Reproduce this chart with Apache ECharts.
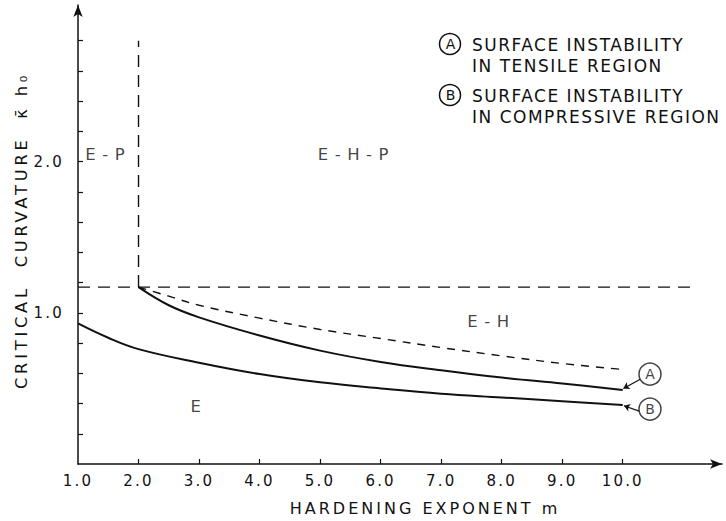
<!DOCTYPE html>
<html>
<head>
<meta charset="utf-8">
<script src="https://cdn.jsdelivr.net/npm/echarts@6/dist/echarts.min.js"></script>
<style>
  html, body { margin: 0; padding: 0; background: #ffffff; }
  #chart { width: 726px; height: 521px; }
  #chart text { letter-spacing: 2.2px; }
  #chart text[style*="16px"] { letter-spacing: 3px; }
  #chart text[style*="16.2px"] { letter-spacing: 3.8px; }
  #chart text[style*="16.5px"] { letter-spacing: 6.5px; }
  #chart text[style*="17px"] { letter-spacing: 1.5px; }
  #chart text[style*="14px"] { letter-spacing: 0px; }
</style>
</head>
<body>
<div id="chart"></div>
<script>
// ---- data ----
const xTickValues = [2, 3, 4, 5, 6, 7, 8, 9, 10];
const xLabelValues = [1, 2, 3, 4, 5, 6, 7, 8, 9, 10];
const yTickValues = [0.2, 0.4, 0.6, 0.8, 1.0, 1.2, 1.4, 1.6, 1.8, 2.0, 2.2, 2.4, 2.6, 2.8];
const yLabelValues = [1, 2];

// curve A: surface instability in tensile region (solid, upper)
const curveAx = [2.0, 2.5, 3.0, 4.0, 5.0, 6.0, 7.0, 8.0, 9.0, 10.0];
const curveAy = [1.17, 1.05, 0.97, 0.85, 0.75, 0.675, 0.62, 0.572, 0.532, 0.49];
// curve B: surface instability in compressive region (solid, lower)
const curveBx = [1.0, 1.5, 2.0, 3.0, 4.0, 5.0, 6.0, 7.0, 8.0, 9.0, 10.0];
const curveBy = [0.93, 0.835, 0.76, 0.67, 0.595, 0.54, 0.50, 0.465, 0.44, 0.415, 0.39];
// dashed E / E-H boundary curve
const dashCx = [2.0, 2.5, 3.0, 4.0, 5.0, 6.0, 7.0, 8.0, 9.0, 10.0];
const dashCy = [1.17, 1.11, 1.05, 0.965, 0.89, 0.83, 0.77, 0.715, 0.665, 0.625];
// dashed plasticity limit lines
const plasticLevel = 1.17;
const horizLineX = [1.0, 11.23];
const vertLineX = 2.0;
const vertLineY = [1.17, 2.8];

// region labels
const regionNames = ['E-P', 'E-H-P', 'E-H', 'E'];
const regionX = [1.5, 5.6, 7.83, 3.0];
const regionY = [2.05, 2.05, 0.94, 0.38];

// callout markers
const calloutNames = ['A', 'B'];
const calloutX = [10.45, 10.45];
const calloutY = [0.594, 0.363];
const leaderFrom = [[10.29, 0.56], [10.27, 0.35]];
const leaderTo = [[10.01, 0.50], [10.02, 0.385]];

const legendLines = ['SURFACE INSTABILITY', 'IN TENSILE REGION', 'SURFACE INSTABILITY', 'IN COMPRESSIVE REGION'];

// ---- build ----
const ink = '#111111';
const font = 'DejaVu Sans';
const zip = (xs, ys) => xs.map((x, i) => [x, ys[i]]);

const chart = echarts.init(document.getElementById('chart'), null, { renderer: 'svg' });

const option = {
  backgroundColor: '#ffffff',
  animation: false,
  grid: { left: 78, right: 4, top: 5, bottom: 56 },
  xAxis: {
    type: 'value',
    min: 1,
    max: 11.64,
    name: 'HARDENING EXPONENT m',
    nameLocation: 'middle',
    nameGap: 36,
    nameTextStyle: { color: ink, fontFamily: font, fontSize: 16, padding: [0, 0, 0, 50] },
    axisLine: { lineStyle: { color: ink, width: 1.5 }, symbol: ['none', 'arrow'], symbolSize: [7, 12] },
    axisTick: { inside: true, length: 5, customValues: xTickValues, lineStyle: { color: ink, width: 1.2 } },
    axisLabel: {
      customValues: xLabelValues, margin: 9, color: ink, fontFamily: font, fontSize: 15,
      formatter: v => v.toFixed(1)
    },
    splitLine: { show: false }
  },
  yAxis: {
    type: 'value',
    min: 0,
    max: 3.036,
    name: 'CRITICAL  CURVATURE  κ\u0304 h\u2080',
    nameLocation: 'middle',
    nameGap: 49,
    nameRotate: 90,
    nameTextStyle: { color: ink, fontFamily: font, fontSize: 16.2, padding: [0, 0, 0, 8] },
    axisLine: { lineStyle: { color: ink, width: 1.5 }, symbol: ['none', 'arrow'], symbolSize: [7, 12] },
    axisTick: { inside: true, length: 5, customValues: yTickValues, lineStyle: { color: ink, width: 1.2 } },
    axisLabel: {
      customValues: yLabelValues, margin: 14, color: ink, fontFamily: font, fontSize: 15,
      formatter: v => v.toFixed(1)
    },
    splitLine: { show: false }
  },
  series: [
    {
      type: 'line', data: zip(curveAx, curveAy), smooth: 0.4, symbol: 'none',
      lineStyle: { color: ink, width: 2 }, silent: true
    },
    {
      type: 'line', data: zip(curveBx, curveBy), smooth: 0.4, symbol: 'none',
      lineStyle: { color: ink, width: 2 }, silent: true
    },
    {
      type: 'line', data: zip(dashCx, dashCy), smooth: 0.4, symbol: 'none',
      lineStyle: { color: ink, width: 1.4, type: [8, 7] }, silent: true
    },
    {
      type: 'line', data: horizLineX.map(x => [x, plasticLevel]), symbol: 'none',
      lineStyle: { color: ink, width: 1.4, type: [12, 8] }, silent: true
    },
    {
      type: 'line', data: vertLineY.map(y => [vertLineX, y]), symbol: 'none',
      lineStyle: { color: ink, width: 1.4, type: [12, 8] }, silent: true
    },
    {
      type: 'scatter', symbolSize: 0, silent: true,
      data: regionNames.map((n, i) => ({ name: n, value: [regionX[i], regionY[i]] })),
      label: { show: true, position: 'inside', formatter: '{b}', color: ink, fontFamily: font, fontSize: 16.5 }
    },
    {
      type: 'scatter', symbol: 'circle', symbolSize: 22, silent: true,
      itemStyle: { color: '#ffffff', borderColor: ink, borderWidth: 1.5 },
      data: calloutNames.map((n, i) => ({ name: n, value: [calloutX[i], calloutY[i]] })),
      label: { show: true, position: 'inside', formatter: '{b}', color: ink, fontFamily: font, fontSize: 14 },
      z: 5,
      markLine: {
        silent: true,
        symbol: ['none', 'arrow'],
        symbolSize: 6,
        label: { show: false },
        lineStyle: { color: ink, width: 1.2, type: 'solid', curveness: 0.15 },
        data: leaderFrom.map((f, i) => [{ coord: f }, { coord: leaderTo[i] }])
      }
    }
  ],
  graphic: [
    { type: 'circle', shape: { cx: 450, cy: 44, r: 10.5 }, style: { fill: '#fff', stroke: ink, lineWidth: 1.5 } },
    { type: 'text', x: 450.5, y: 44, style: { text: 'A', fill: ink, font: '14px "DejaVu Sans"', align: 'center', verticalAlign: 'middle' } },
    { type: 'circle', shape: { cx: 450, cy: 95, r: 10.5 }, style: { fill: '#fff', stroke: ink, lineWidth: 1.5 } },
    { type: 'text', x: 450.5, y: 95, style: { text: 'B', fill: ink, font: '14px "DejaVu Sans"', align: 'center', verticalAlign: 'middle' } },
    { type: 'text', x: 472, y: 45, style: { text: legendLines[0], fill: ink, font: '17px "DejaVu Sans"', align: 'left', verticalAlign: 'middle' } },
    { type: 'text', x: 472, y: 66, style: { text: legendLines[1], fill: ink, font: '17px "DejaVu Sans"', align: 'left', verticalAlign: 'middle' } },
    { type: 'text', x: 472, y: 96, style: { text: legendLines[2], fill: ink, font: '17px "DejaVu Sans"', align: 'left', verticalAlign: 'middle' } },
    { type: 'text', x: 472, y: 117, style: { text: legendLines[3], fill: ink, font: '17px "DejaVu Sans"', align: 'left', verticalAlign: 'middle' } }
  ]
};
chart.setOption(option);
</script>
</body>
</html>
